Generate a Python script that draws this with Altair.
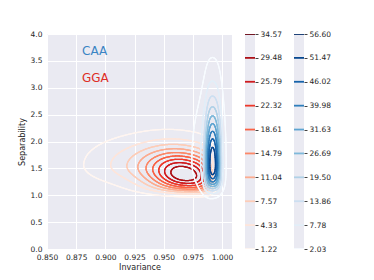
import numpy as np
import pandas as pd
import altair as alt

# ---- values ----
x_ticks = [0.850, 0.875, 0.900, 0.925, 0.950, 0.975, 1.000]
y_ticks = [0.0, 0.5, 1.0, 1.5, 2.0, 2.5, 3.0, 3.5, 4.0]
gga_levels = [1.22, 4.33, 7.57, 11.04, 14.79, 18.61, 22.32, 25.79, 29.48, 34.57]
caa_levels = [2.03, 7.78, 13.86, 19.50, 26.69, 31.63, 39.98, 46.02, 51.47, 56.60]
iso_props = [0.05, 0.1556, 0.2611, 0.3667, 0.4722, 0.5778, 0.6833, 0.7889, 0.8944, 1.0]
labels = ["CAA", "GGA"]
label_x = [0.880, 0.880]
label_y = [3.68, 3.18]
label_colors = ["#3a84c4", "#de2d26"]

# shape of each group's density, estimated from the contours in the picture
# part: weight, x centre, x sd left, x sd right, y centre, y sd down, y sd up, shear,
#       x low edge, x high edge, y low edge, x softness, y softness
gga_parts = [
    (0.83, 0.968, 0.024, 0.030, 1.38, 0.28, 0.34, -2.4, 0.0, 0.990, 1.05, 0.003, 0.05),
    (0.17, 0.920, 0.026, 0.025, 1.56, 0.22, 0.32, 0.0, 0.0, 1.100, 0.00, 0.003, 0.05),
]
caa_parts = [
    (0.80, 0.992, 0.012, 0.012, 1.55, 0.45, 0.78, 0.0, 0.9865, 0.998, 1.10, 0.0018, 0.06),
    (0.20, 0.988, 0.009, 0.007, 1.62, 0.35, 0.80, 0.0, 0.0, 1.100, 0.00, 0.0018, 0.06),
]

reds = ["#fff5f0", "#fee0d2", "#fcbba1", "#fc9272", "#fb6a4a", "#ef3b2c", "#cb181d", "#a50f15", "#67000d"]
blues = ["#f7fbff", "#deebf7", "#c6dbef", "#9ecae1", "#6baed6", "#4292c6", "#2171b5", "#08519c", "#08306b"]


def cmap(anchors, t):
    pos = t * (len(anchors) - 1)
    i = min(int(np.floor(pos)), len(anchors) - 2)
    f = pos - i
    a = [int(anchors[i][k:k + 2], 16) for k in (1, 3, 5)]
    b = [int(anchors[i + 1][k:k + 2], 16) for k in (1, 3, 5)]
    c = [round(a[j] + (b[j] - a[j]) * f) for j in range(3)]
    return "#%02x%02x%02x" % tuple(c)


def level_colors(levels, anchors):
    lo, hi = levels[0], levels[-1]
    return [cmap(anchors, (v - lo) / (hi - lo)) for v in levels]


gga_colors = level_colors(gga_levels, reds)
caa_colors = level_colors(caa_levels, blues)

xs = np.linspace(0.85, 1.0085, 320)
ys = np.linspace(0.0, 4.0, 320)
XX, YY = np.meshgrid(xs, ys)


def sigmoid(z):
    return 1.0 / (1.0 + np.exp(-np.clip(z, -60, 60)))


def density(parts):
    total = np.zeros_like(XX)
    for w, cx, sxl, sxr, cy, syd, syu, shear, xlo, xhi, ylo, kx, ky in parts:
        dx = XX - cx
        dy = YY - cy - shear * dx
        a = np.where(dx < 0, dx / sxl, dx / sxr)
        b = np.where(dy < 0, dy / syd, dy / syu)
        d = np.exp(-0.5 * (a * a + b * b))
        d = d * sigmoid((XX - xlo) / kx) * sigmoid((xhi - XX) / kx) * sigmoid((YY - ylo) / ky)
        total += w * d / d.sum()
    return total


def quantile_levels(Z, props):
    vals = np.sort(Z.ravel())[::-1]
    cum = np.cumsum(vals) / vals.sum()
    idx = np.searchsorted(cum, 1 - np.asarray(props))
    return np.take(vals, idx, mode="clip")


def segments(Z, lev):
    v00, v01, v10, v11 = Z[:-1, :-1], Z[:-1, 1:], Z[1:, :-1], Z[1:, 1:]
    shp = v00.shape
    X0 = np.broadcast_to(xs[:-1][None, :], shp)
    X1 = np.broadcast_to(xs[1:][None, :], shp)
    Y0 = np.broadcast_to(ys[:-1][:, None], shp)
    Y1 = np.broadcast_to(ys[1:][:, None], shp)
    with np.errstate(divide="ignore", invalid="ignore"):
        def edge(a, b):
            return ((a >= lev) != (b >= lev)), np.nan_to_num((lev - a) / (b - a))
        c0, t0 = edge(v00, v01)
        c1, t1 = edge(v01, v11)
        c2, t2 = edge(v10, v11)
        c3, t3 = edge(v00, v10)
    C = np.stack([c0, c1, c2, c3])
    EX = np.stack([X0 + t0 * (X1 - X0), X1, X0 + t2 * (X1 - X0), X0])
    EY = np.stack([Y0, Y0 + t1 * (Y1 - Y0), Y1, Y0 + t3 * (Y1 - Y0)])
    cnt = C.sum(0)
    out = []
    m = cnt == 2
    order = np.argsort(~C, axis=0, kind="stable")
    i1 = order[0][m]
    i2 = order[1][m]
    ex = EX[:, m]
    ey = EY[:, m]
    k = np.arange(m.sum())
    out.append(np.column_stack([ex[i1, k], ey[i1, k], ex[i2, k], ey[i2, k]]))
    m4 = cnt == 4
    if m4.any():
        ex = EX[:, m4]
        ey = EY[:, m4]
        out.append(np.column_stack([ex[0], ey[0], ex[3], ey[3]]))
        out.append(np.column_stack([ex[1], ey[1], ex[2], ey[2]]))
    return np.vstack(out)


def contour_frame(Z, colors, name):
    levs = quantile_levels(Z, iso_props)
    rows = []
    for i, lev in enumerate(levs[:-1]):
        s = segments(Z, lev)
        if len(s) == 0:
            continue
        df = pd.DataFrame(s, columns=["x", "y", "x2", "y2"])
        df["color"] = colors[i]
        df["grp"] = f"{name}{i}"
        rows.append(df)
    return pd.concat(rows, ignore_index=True)


gga_df = contour_frame(density(gga_parts), gga_colors, "gga")
caa_df = contour_frame(density(caa_parts), caa_colors, "caa")

W, H = 185, 215
FONT = "DejaVu Sans"
xscale = alt.Scale(domain=[0.85, 1.0085], nice=False, zero=False)
yscale = alt.Scale(domain=[0, 4], nice=False)
xaxis = alt.Axis(values=x_ticks, format=".3f", title="Invariance", ticks=False, domain=False,
                 gridColor="white", gridWidth=1, labelPadding=4, titlePadding=3,
                 labelFlush=False, labelOverlap=False)
yaxis = alt.Axis(values=y_ticks, format=".1f", title="Separability", ticks=False, domain=False,
                 gridColor="white", gridWidth=1, labelPadding=5, titlePadding=4,
                 labelFlush=False, labelOverlap=False)


def contour_layer(df):
    return alt.Chart(df).mark_rule(clip=True, strokeWidth=1.25, strokeCap="round").encode(
        x=alt.X("x:Q", scale=xscale, axis=xaxis),
        y=alt.Y("y:Q", scale=yscale, axis=yaxis),
        x2="x2:Q", y2="y2:Q",
        color=alt.Color("color:N", scale=None),
        detail="grp:N",
    )


text_df = pd.DataFrame({"label": labels, "x": label_x, "y": label_y, "color": label_colors})
texts = alt.Chart(text_df).mark_text(align="left", baseline="middle", fontSize=12, font=FONT).encode(
    x=alt.X("x:Q", scale=xscale, axis=xaxis),
    y=alt.Y("y:Q", scale=yscale, axis=yaxis),
    text="label:N",
    color=alt.Color("color:N", scale=None),
)

main = alt.layer(contour_layer(gga_df), contour_layer(caa_df), texts).properties(width=W, height=H)


def colorbar(levels, colors):
    df = pd.DataFrame({"idx": list(range(len(levels))), "color": colors})
    lab_list = "[" + ",".join(f"'{v:.2f}'" for v in levels) + "]"
    return alt.Chart(df).mark_rule(clip=True, strokeWidth=1.8).encode(
        y=alt.Y("idx:Q", scale=alt.Scale(domain=[0, 9], nice=False),
                axis=alt.Axis(orient="right", values=list(range(10)), labelExpr=f"{lab_list}[datum.value]",
                              grid=False, domain=False, tickSize=3, tickColor="#444444",
                              labelPadding=2, title=None, labelFlush=False, labelOverlap=False)),
        x=alt.value(0), x2=alt.value(10),
        color=alt.Color("color:N", scale=None),
    ).properties(width=10, height=H)


chart = alt.hconcat(main, colorbar(gga_levels, gga_colors), colorbar(caa_levels, caa_colors),
                    spacing=12).properties(
    padding={"left": 10, "top": 22, "right": 0, "bottom": 0}
).configure_view(strokeWidth=0, fill="#eaeaf2").configure_axis(
    labelFont=FONT, titleFont=FONT, labelFontSize=7.5, titleFontSize=8,
    labelColor="#262626", titleColor="#262626", titleFontWeight="normal"
)

chart.save("out.html", embed_options={"renderer": "svg", "actions": False})
